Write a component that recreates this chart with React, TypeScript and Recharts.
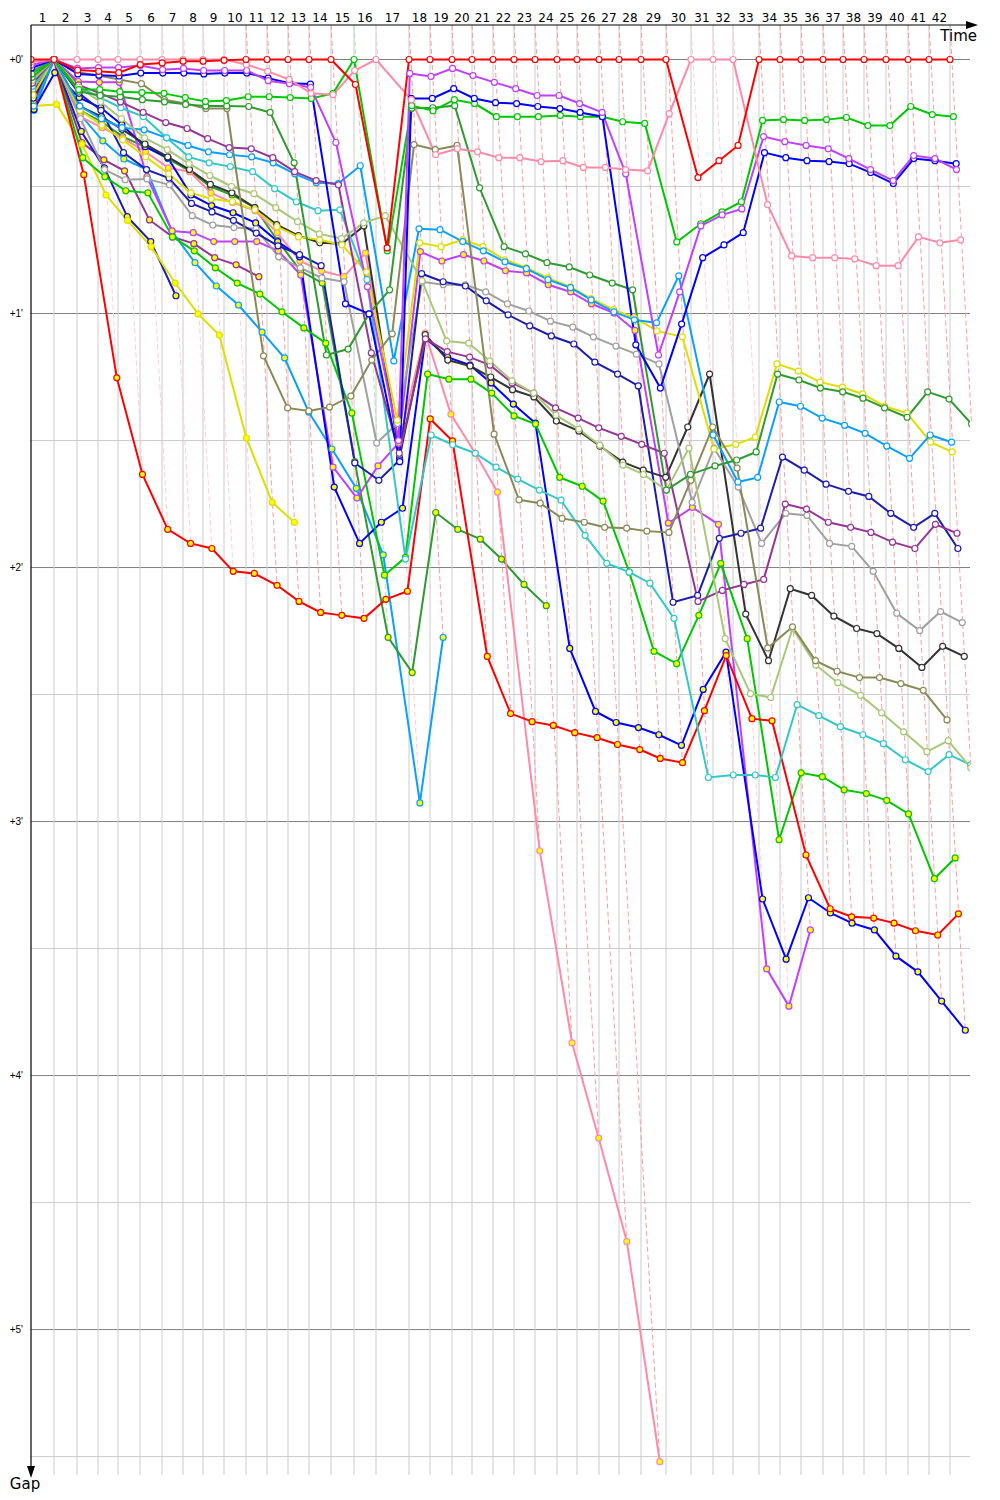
import React from 'react';
import { LineChart, Line, XAxis, YAxis, ReferenceLine } from 'recharts';

// cumulative race time of the leader at the end of each lap (seconds), lap 0..42
const leaderTimes = [
  0, 92, 184, 268, 348, 436, 524, 608, 688, 772, 860, 944, 1028, 1112, 1200, 1292, 1380,
  1512, 1596, 1684, 1764, 1848, 1932, 2016, 2104, 2184, 2272, 2352, 2440, 2540, 2640,
  2728, 2808, 2912, 2996, 3080, 3168, 3248, 3332, 3420, 3508, 3592, 3676,
];

// who led each lap (1..42)
const lapLeader = [
  'pink', 'pink', 'pink', 'pink', 'pink', 'pink', 'pink', 'pink', 'pink',
  'red', 'red', 'red', 'red', 'red', 'green', 'pink',
  'red', 'red', 'red', 'red', 'red', 'red', 'red', 'red', 'red', 'red', 'red', 'red', 'red',
  'pink', 'pink', 'pink',
  'red', 'red', 'red', 'red', 'red', 'red', 'red', 'red', 'red', 'red',
];

// gap to the leader in seconds, lap 0..last lap
const redW = [0, 0, 2.5, 2.8, 3.1, 1.2, 0.8, 0.4, 0.4, 0.2, 0, 0, 0, 0, 0, 5.9, 44.5, 0, 0, 0, 0, 0, 0, 0, 0, 0, 0, 0, 0, 0, 27.9, 23.9, 20.3, 0, 0, 0, 0, 0, 0, 0, 0, 0, 0];
const pinkW = [0.6, 0, 0, 0, 0, 0, 0, 0, 0, 0, 1.2, 2.8, 4.7, 8.0, 8.3, 2.6, 0, 9.5, 22.5, 21.1, 21.8, 23.2, 23.2, 24.1, 23.9, 25.5, 25.5, 26.0, 26.3, 12.8, 0, 0, 0, 34.3, 46.4, 46.8, 46.8, 47.1, 48.7, 48.7, 41.9, 43.3, 42.6];
const magentaW = [1.3, 0, 2.1, 1.9, 1.9, 1.4, 2.4, 2.1, 2.6, 2.6, 2.6, 5.0, 5.7, 6.6, 19.6, 53.7, 90, 3.3, 4.0, 2.1, 3.8, 5.4, 6.9, 8.5, 8.5, 10.4, 12.5, 27.0, 69.8, 54.9, 39.3, 36.7, 35.3, 18.2, 19.4, 20.3, 21.1, 23.4, 26.0, 28.6, 22.7, 23.4, 26.0];
const blueW = [2.0, 0, 3.4, 3.7, 3.9, 3.2, 3.2, 3.2, 3.4, 3.2, 3.2, 4.4, 5.6, 5.8, 57.7, 60.1, 95, 9.2, 9.2, 6.9, 9.2, 10.2, 10.4, 11.1, 11.6, 12.5, 13.5, 67.4, 77.6, 62.5, 46.8, 43.8, 40.9, 22.0, 23.2, 23.9, 24.1, 24.6, 26.7, 29.3, 23.4, 23.9, 24.6];
const greenW = [3.4, 0, 7.1, 7.1, 7.6, 7.8, 8.0, 9.0, 9.9, 9.7, 8.8, 8.8, 9.0, 9.2, 8.0, 0, 45.2, 10.9, 12.1, 9.5, 10.4, 13.5, 13.5, 13.5, 13.2, 13.5, 13.5, 14.7, 15.1, 43.1, 38.8, 36.0, 33.6, 14.4, 14.2, 14.4, 14.2, 13.7, 15.6, 15.6, 11.1, 13.0, 13.5];
const darkGreenW = [4.2, 0, 7.5, 8.5, 8.8, 9.5, 10.0, 10.6, 11.0, 11.0, 11.1, 12.5, 24.4, 69.8, 68.4, 60.1, 54.4, 11.5, 11.4, 10.9, 30.3, 44.2, 45.9, 48.0, 49.0, 50.9, 52.8, 54.4, 101.7, 98, 96, 94.6, 92.7, 74.3, 75.7, 77.6, 78.5, 80.0, 82.3, 84.5, 78.5, 80.2, 86.1];
const oliveW = [2.8, 0, 3.0, 3.8, 4.7, 5.7, 9.5, 10.4, 11.6, 11.6, 70.0, 82.3, 83.0, 82.1, 79.5, 71.0, 64.8, 20.1, 21.3, 20.3, 88.5, 104.0, 104.8, 108.4, 109.3, 110.5, 110.7, 111.4, 111.7, 99.4, 86.8, 96.5, 139.0, 134.0, 142.0, 144.5, 146.0, 146.0, 147.4, 149.0, 156.0];
const lightOliveW = [4.9, 0, 6.5, 10, 14, 18.5, 21.3, 24.6, 27.4, 30.0, 31.7, 35.0, 38.3, 41.2, 42.3, 38.6, 36.9, 52.3, 66.5, 67.0, 71.2, 75.9, 78.8, 84.0, 87.3, 91.1, 95.8, 98.0, 101.7, 91.8, 136.8, 149.8, 150.7, 134.4, 143.0, 147.2, 150.2, 154.3, 158.8, 163.5, 160.9, 167.3];
const purpleW = [5.6, 0, 6, 8, 10, 12.5, 14.9, 16.3, 18.7, 20.8, 21.1, 23.2, 26.5, 28.6, 29.6, 69.3, 93, 66, 69, 70.3, 72.2, 76.4, 78.8, 82.3, 84.7, 87.0, 89.0, 90.9, 93.0, 128.0, 125.4, 124.0, 122.8, 105.0, 106.2, 109.3, 110.5, 111.7, 114.0, 115.5, 109.8, 111.9];
const cyanW = [6.3, 0, 6.5, 9.0, 11.4, 13.5, 18.5, 23.0, 24.4, 25.3, 26.5, 30.5, 33.6, 35.7, 35.5, 52, 118, 88.7, 91, 93.0, 96.3, 99.1, 101.7, 104.1, 112.4, 119.0, 121.1, 123.7, 132.0, 169.6, 169.0, 169.0, 169.6, 152.4, 155.0, 157.6, 159.5, 161.6, 165.4, 168.2, 164.2, 166.6];
const lightBlueW = [11, 0, 11, 14.0, 16.1, 16.6, 18.5, 20.3, 21.8, 22.5, 23.0, 24.4, 27.0, 29.1, 29.3, 25.1, 71.2, 40.0, 40.2, 43.0, 45.2, 47.8, 49.4, 52.0, 53.9, 56.8, 59.6, 61.5, 62.2, 51.1, 88.7, 99.8, 98.7, 80.9, 81.9, 84.7, 86.4, 88.3, 91.3, 94.2, 88.7, 90.4];
const yellowW = [8.4, 0, 12, 15.5, 19, 23, 27, 31.5, 32.9, 33.6, 35.5, 39.5, 41.9, 42.6, 43.8, 50.2, 85.2, 43.3, 44.2, 42.6, 44.2, 47.3, 49.2, 51.6, 53.7, 56.5, 59.1, 61.0, 64.1, 65.5, 92, 90.9, 89.2, 71.9, 73.6, 76.2, 77.4, 79.0, 81.9, 83.5, 90.4, 92.7];
const navyW = [9.1, 0, 8, 12, 22, 26, 28, 34, 36, 38, 41, 44, 46.1, 48.7, 95.3, 99.4, 94.6, 50.6, 52.5, 53.5, 57.0, 60.3, 62.9, 65.3, 67.2, 71.5, 74.3, 77.1, 128.2, 126.6, 113.1, 111.9, 110.7, 93.9, 97.0, 100.3, 102.0, 103.2, 107.2, 110.5, 107.2, 115.5];
const greyW = [7, 0, 14, 26, 28.4, 28.2, 29.6, 36.9, 39.1, 39.7, 40.0, 46.6, 49.2, 51.6, 52.5, 90.6, 86, 52.5, 53.2, 53.2, 54.9, 57.7, 59.4, 61.8, 63.2, 65.5, 67.7, 69.6, 71.9, 104.6, 91.8, 101.0, 114.3, 107.2, 107.7, 114.3, 115.0, 120.9, 130.8, 134.9, 130.4, 133.0];
const darkGreyW = [7.7, 0, 11, 13.5, 16.5, 20, 23, 26, 29.5, 31.5, 35, 39, 41.6, 43.3, 43.5, 39.3, 94, 65, 71.0, 72.4, 75.0, 78.0, 79.7, 85.4, 87.8, 91.3, 95.1, 97.0, 98.7, 86.8, 74.3, 131.0, 142.0, 125.0, 126.6, 131.5, 134.4, 135.6, 139.1, 143.6, 138.6, 141.0];
const redY = [10, 0, 27.2, 75.2, 98.0, 111.0, 114.3, 115.5, 120.9, 121.4, 124.2, 128.0, 130.6, 131.3, 132.0, 127.5, 125.6, 84.9, 90.1, 141.0, 154.5, 156.4, 157.3, 159.0, 160.2, 161.8, 163.0, 165.1, 166.1, 153.8, 140.8, 155.7, 156.2, 187.9, 200.6, 202.5, 202.8, 204.0, 205.8, 206.8, 201.8];
const greenY = [10, 0, 23.2, 27.7, 31.0, 31.5, 41.9, 45.2, 49.2, 52.8, 55.4, 59.6, 63.4, 67.0, 83.5, 121.8, 117.6, 74.3, 75.5, 75.5, 78.8, 84.2, 86.1, 98.7, 100.8, 104.3, 121.1, 139.8, 142.7, 131.3, 119.0, 136.8, 184.3, 168.5, 169.4, 172.5, 173.4, 175.0, 178.2, 193.5, 188.6];
const blueY = [11.8, 3.1, 9.0, 11.4, 15.4, 20.6, 23.2, 32.0, 34.5, 36.2, 38.6, 43.0, 46.6, 101, 114.3, 109.3, 106, 65.8, 70.3, 72.2, 76.4, 81.4, 85.9, 139.1, 154, 156.6, 157.8, 159.5, 162, 148.8, 140, 198.3, 212.5, 198, 201.6, 204, 205.6, 211.8, 215.5, 222.4, 229.3];
const magentaY = [10.5, 0, 5.2, 5.4, 5.4, 27.7, 40.5, 40.9, 43.0, 43.0, 43.0, 45.2, 50.9, 96.3, 103.6, 96.0, 90.6, 45.4, 47.6, 46.1, 47.6, 49.9, 50.4, 53.2, 54.9, 57.7, 59.9, 64, 109.5, 105.8, 109.8, 214.8, 223.6, 205.6];
const pinkY = [9.8, 0, 13.5, 16.1, 18.5, 21.8, 25.6, 26.5, 31.5, 33.8, 35.7, 40.9, 47.6, 49.9, 51.3, 45.7, 90.6, 64.6, 83.8, 93.0, 102.2, 186.9, 232.3, 254.8, 279.2, 331.2];
const darkGreenY = [11.2, 0, 12.0, 14.7, 18.2, 20.6, 23.4, 26.3, 30.0, 32.0, 35.0, 42.8, 49.9, 52.8, 95, 136.5, 144.8, 107.0, 111.0, 113.3, 118.0, 124.0, 129.0];
const lightBlueY = [12, 0, 13, 19.2, 23.5, 26, 40.7, 48.0, 53.5, 58.0, 64.4, 70.5, 83.3, 92.0, 101.3, 117.0, 175.6, 136.5];
const yellowY = [11, 10.6, 20, 32, 38, 44.2, 52.8, 60.1, 65.1, 89.4, 104.6, 109.3];
const navyY = [8.8, 0, 17, 25.6, 37.1, 43.0, 55.8];
const purpleY = [8, 0, 19.6, 23.7, 26.3, 37.9, 41.9, 43.5, 46.8, 48.5, 51.3];

const minuteTicks = [0, 60, 120, 180, 240, 300];
const halfMinuteLines = [30, 90, 150, 210, 270, 330];

const WHITE = '#ffffff';
const YELLOW = '#ffff00';

// draw order: first ones end up underneath
const series = [
  { key: 'purpleY', gaps: purpleY, color: '#953595', fill: YELLOW },
  { key: 'navyY', gaps: navyY, color: '#1c1cb0', fill: YELLOW },
  { key: 'yellowY', gaps: yellowY, color: '#dede00', fill: YELLOW },
  { key: 'lightBlueY', gaps: lightBlueY, color: '#0aa0ff', fill: YELLOW },
  { key: 'darkGreenY', gaps: darkGreenY, color: '#2f9a2f', fill: YELLOW },
  { key: 'pinkY', gaps: pinkY, color: '#ff8aa8', fill: YELLOW },
  { key: 'magentaY', gaps: magentaY, color: '#bf40ff', fill: YELLOW },
  { key: 'blueY', gaps: blueY, color: '#0000ff', fill: YELLOW },
  { key: 'greenY', gaps: greenY, color: '#00c800', fill: YELLOW },
  { key: 'redY', gaps: redY, color: '#ff0000', fill: YELLOW },
  { key: 'darkGreyW', gaps: darkGreyW, color: '#333333', fill: WHITE },
  { key: 'greyW', gaps: greyW, color: '#a0a0a0', fill: WHITE },
  { key: 'navyW', gaps: navyW, color: '#1c1cb0', fill: WHITE },
  { key: 'yellowW', gaps: yellowW, color: '#dede00', fill: WHITE },
  { key: 'lightBlueW', gaps: lightBlueW, color: '#0aa0ff', fill: WHITE },
  { key: 'cyanW', gaps: cyanW, color: '#33c8c8', fill: WHITE },
  { key: 'purpleW', gaps: purpleW, color: '#953595', fill: WHITE },
  { key: 'lightOliveW', gaps: lightOliveW, color: '#a8c878', fill: WHITE },
  { key: 'oliveW', gaps: oliveW, color: '#8a8a58', fill: WHITE },
  { key: 'darkGreenW', gaps: darkGreenW, color: '#2f9a2f', fill: WHITE },
  { key: 'greenW', gaps: greenW, color: '#00c800', fill: WHITE },
  { key: 'blueW', gaps: blueW, color: '#0000ff', fill: WHITE },
  { key: 'magentaW', gaps: magentaW, color: '#bf40ff', fill: WHITE },
  { key: 'pinkW', gaps: pinkW, color: '#ff8aa8', fill: WHITE },
  { key: 'redW', gaps: redW, color: '#ff0000', fill: WHITE },
];

const lapLineColor: Record<string, string> = {
  red: '#ff9c9c',
  pink: '#ffcdd8',
  green: '#a8e8a8',
};

const Y_MIN = -8.15;
const Y_MAX = 334.35;
const X_MAX = 3756;

const laps = leaderTimes.slice(1).map((_, i) => i + 1);
const lapTickValues = laps.map((n) => (leaderTimes[n - 1] + leaderTimes[n]) / 2);

export default function App() {
  const lines = series.map((s) => ({
    ...s,
    points: s.gaps.map((g, lap) => ({ x: leaderTimes[lap] + g, y: g })),
  }));

  const lapLines = laps.map((n) => {
    const gaps = series.filter((s) => s.gaps.length > n).map((s) => s.gaps[n]);
    const maxGap = Math.max(...gaps);
    return { n, t: leaderTimes[n], maxGap, color: lapLineColor[lapLeader[n - 1]] };
  });

  return (
    <div style={{ position: 'relative', width: 984, height: 1484, fontFamily: 'DejaVu Sans, Verdana, sans-serif' }}>
      <LineChart width={984} height={1484} margin={{ top: 0, right: 22, bottom: 17, left: 0 }}>
        <XAxis
          type="number"
          dataKey="x"
          orientation="top"
          domain={[0, X_MAX]}
          allowDataOverflow
          ticks={lapTickValues}
          interval={0}
          tickFormatter={(_v: number, i: number) => String(i + 1)}
          height={17}
          axisLine={false}
          tickLine={false}
          tickSize={0}
          tickMargin={3}
          tick={{ fontSize: 12, fill: '#000' }}
        />
        <YAxis
          type="number"
          dataKey="y"
          reversed
          domain={[Y_MIN, Y_MAX]}
          allowDataOverflow
          ticks={minuteTicks}
          interval={0}
          tickFormatter={(v: number) => `+${v / 60}'`}
          width={23}
          axisLine={false}
          tickLine={false}
          tickSize={0}
          tickMargin={8}
          tick={{ fontSize: 10, fill: '#000', fontFamily: 'Liberation Sans, Arial, sans-serif' }}
        />
        {halfMinuteLines.map((v) => (
          <ReferenceLine key={`h${v}`} y={v} stroke="#cccccc" strokeWidth={1} />
        ))}
        {minuteTicks.map((v) => (
          <ReferenceLine key={`m${v}`} y={v} stroke="#808080" strokeWidth={1} />
        ))}
        {laps.map((n) => (
          <ReferenceLine key={`v${n}`} x={leaderTimes[n]} stroke="#cccccc" strokeWidth={1} />
        ))}
        {lapLines.map((l) => (
          <ReferenceLine
            key={`lap${l.n}`}
            segment={[
              { x: l.t, y: Y_MIN },
              { x: l.t + l.maxGap, y: l.maxGap },
            ]}
            stroke={l.color}
            strokeWidth={1}
            strokeDasharray="5 3"
            ifOverflow="visible"
          />
        ))}
        {lines.map((s) => (
          <Line
            key={s.key}
            data={s.points}
            dataKey="y"
            type="linear"
            stroke={s.color}
            strokeWidth={2}
            dot={{ r: 3, fill: s.fill, stroke: s.color, strokeWidth: 1.2 }}
            activeDot={false}
            isAnimationActive={false}
          />
        ))}
      </LineChart>
      <svg
        width={984}
        height={1484}
        style={{ position: 'absolute', left: 0, top: 0, pointerEvents: 'none' }}
      >
        <line x1={23} y1={17} x2={962} y2={17} stroke="#000" strokeWidth={1.2} />
        <polygon points="958,13 970,17 958,21" fill="#000" />
        <line x1={23} y1={17} x2={23} y2={1460} stroke="#000" strokeWidth={1.2} />
        <polygon points="19,1458 23,1470 27,1458" fill="#000" />
        <text x={969} y={33} textAnchor="end" fontSize={15} fill="#000">
          Time
        </text>
        <text x={17} y={1481} textAnchor="middle" fontSize={15} fill="#000">
          Gap
        </text>
      </svg>
    </div>
  );
}
